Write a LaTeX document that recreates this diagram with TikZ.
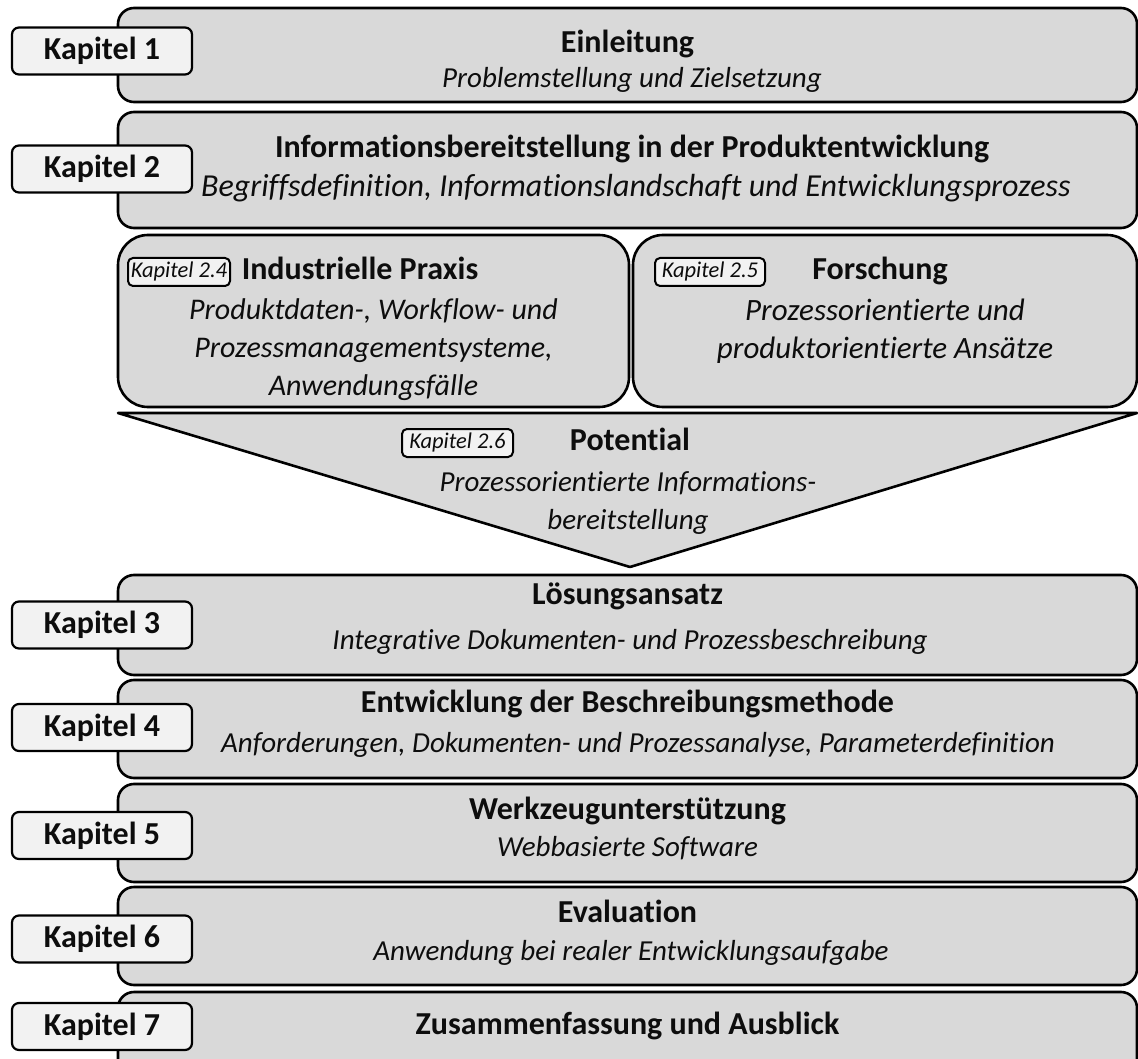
\documentclass[tikz,border=0pt]{standalone}
\usepackage{fontspec}
\setmainfont[Ligatures=NoCommon]{Carlito}
\definecolor{boxgray}{HTML}{D9D9D9}
\definecolor{taggray}{HTML}{F2F2F2}
\definecolor{ink}{HTML}{0D0D0D}
\newcommand{\subsize}[1]{\fontsize{#1}{38}\selectfont}
\begin{document}
\begin{tikzpicture}[x=1pt,y=-1pt,
  line join=round,
  chapbox/.style={draw=black, line width=2.6pt, fill=boxgray, rounded corners=16pt,
    minimum width=1019pt, inner sep=0pt},
  subbox/.style={draw=black, line width=2.6pt, fill=boxgray, rounded corners=30pt,
    minimum height=172pt, inner sep=0pt},
  chaptag/.style={draw=black, line width=2.2pt, fill=taggray, rounded corners=7pt,
    minimum width=180pt, minimum height=47pt, inner sep=0pt,
    font=\fontsize{32}{36}\selectfont\bfseries, text=ink},
  smalltag/.style={draw=black, line width=2pt, fill=taggray, rounded corners=5pt,
    minimum height=28pt, inner sep=0pt,
    font=\fontsize{22.5}{24}\selectfont\itshape, text=ink},
  title/.style={inner sep=0pt, text height=22pt, text depth=7pt,
    font=\fontsize{32}{38}\selectfont\bfseries, text=ink},
  subtitle/.style={inner sep=0pt, align=center, text=ink,
    font=\subsize{#1}\itshape},
  subtitle/.default=29,
]
\clip (0,0) rectangle (1138,1059);
\path[fill=white] (0,0) rectangle (1138,1059);

% chapter bands
\node[chapbox, minimum height=94pt]  (b1) at (627.5,55)  {};
\node[chapbox, minimum height=116pt] (b2) at (627.5,170) {};
\node[chapbox, minimum height=100pt] (b3) at (627.5,625) {};
\node[chapbox, minimum height=98pt]  (b4) at (627.5,729) {};
\node[chapbox, minimum height=98pt]  (b5) at (627.5,833) {};
\node[chapbox, minimum height=98pt]  (b6) at (627.5,936) {};
\node[chapbox, minimum height=98pt]  (b7) at (627.5,1041) {};

% sub-chapters of chapter 2
\node[subbox, minimum width=511pt] (praxis) at (373.5,321) {};
\node[subbox, minimum width=504pt] (forsch) at (885,321) {};

% funnel towards chapter 3
\draw[line width=2.6pt, fill=boxgray] (118,413) -- (1137,413) -- (630,567) -- cycle;

% chapter tags
\node[chaptag] (k1) at (102,51)     {Kapitel 1};
\node[chaptag] (k2) at (102,169)    {Kapitel 2};
\node[chaptag] (k3) at (102,625)    {Kapitel 3};
\node[chaptag] (k4) at (102,727.5)  {Kapitel 4};
\node[chaptag] (k5) at (102,835.5)  {Kapitel 5};
\node[chaptag] (k6) at (102,939)    {Kapitel 6};
\node[chaptag] (k7) at (102,1026.5) {Kapitel 7};

\node[smalltag, minimum width=102pt] (k24) at (179,272)   {Kapitel 2.4};
\node[smalltag, minimum width=110pt] (k25) at (710,272)   {Kapitel 2.5};
\node[smalltag, minimum width=111pt] (k26) at (457.5,443) {Kapitel 2.6};

% texts
\node[title] (t1) at (627.5,45) {Einleitung};
\node[subtitle] (s1) at (632,80) {Problemstellung und Zielsetzung};

\node[title] (t2) at (632,150) {Informationsbereitstellung in der Produktentwicklung};
\node[subtitle=32] (s2) at (636,188) {Begriffsdefinition, Informationslandschaft und Entwicklungsprozess};

\node[title] (t24) at (360,272) {Industrielle Praxis};
\node[subtitle=30] (s24) at (373.5,350) {Produktdaten-, Workflow- und\\Prozessmanagementsysteme,\\Anwendungsfälle};

\node[title] (t25) at (880,272) {Forschung};
\node[subtitle=31] (s25) at (885,331) {Prozessorientierte und\\produktorientierte Ansätze};

\node[title] (t26) at (630,443) {Potential};
\node[subtitle] (s26) at (628,503) {Prozessorientierte Informations-\\bereitstellung};

\node[title] (t3) at (627.5,597) {Lösungsansatz};
\node[subtitle] (s3) at (630,642) {Integrative Dokumenten- und Prozessbeschreibung};

\node[title] (t4) at (627.5,705) {Entwicklung der Beschreibungsmethode};
\node[subtitle] (s4) at (638,745) {Anforderungen, Dokumenten- und Prozessanalyse, Parameterdefinition};

\node[title] (t5) at (627.5,812) {Werkzeugunterstützung};
\node[subtitle] (s5) at (627.5,848) {Webbasierte Software};

\node[title] (t6) at (627.5,915) {Evaluation};
\node[subtitle] (s6) at (631,953) {Anwendung bei realer Entwicklungsaufgabe};

\node[title] (t7) at (627.5,1027) {Zusammenfassung und Ausblick};
\end{tikzpicture}
\end{document}
